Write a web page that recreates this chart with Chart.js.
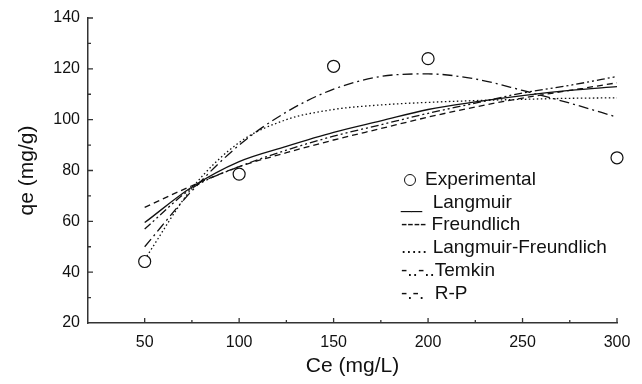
<!DOCTYPE html>
<html>
<head>
<meta charset="utf-8">
<script src="https://cdn.jsdelivr.net/npm/chart.js@4"></script>
<style>
  body { margin: 0; background: #fff; }
  #wrap { position: relative; width: 642px; height: 384px; }
  #legend {
    position: absolute; left: 401px; top: 168px;
    font-family: "Liberation Sans", Arial, sans-serif; font-size: 19px;
    line-height: 22.7px; color: #111; white-space: pre;
  }
  .dot {
    display: inline-block; width: 10px; height: 10px; border: 1.3px solid #111;
    border-radius: 50%; margin: 0 9px 0 3px; vertical-align: -1px;
  }
</style>
</head>
<body>
<div id="wrap">
  <canvas id="chart" width="642" height="384"></canvas>
  <div id="legend"><div><span class="dot"></span>Experimental</div><div>__  Langmuir</div><div>---- Freundlich</div><div>..... Langmuir-Freundlich</div><div>-..-..Temkin</div><div>-.-.  R-P</div></div>
</div>
<script>
const ce = [50, 75, 100, 125, 150, 175, 200, 225, 250, 275, 300];
const expCe = [50, 100, 150, 200, 300];
const expQe = [44.2, 78.6, 121, 124, 85];
const langmuir = [59.5, 73.5, 83.5, 89.5, 95, 99.5, 104, 107, 109.5, 111.5, 113];
const freundlich = [65.5, 74, 81.5, 87, 92, 96.5, 101, 105, 108.5, 111.5, 114.5];
const langFreund = [45, 73, 91, 100, 104, 105.8, 106.8, 107.5, 108, 108.4, 108.6];
const temkin = [57, 73, 81.5, 88, 93.5, 98, 102.5, 106.5, 110.5, 113.5, 117];
const redlichP = [50, 72, 90, 103, 112, 117, 118, 116, 111.5, 106.5, 101];
const xTicks = [50, 100, 150, 200, 250, 300];

function curve(values, dash) {
  return {
    type: "line",
    data: values.map((v, i) => ({ x: ce[i], y: v })),
    borderColor: "#111",
    borderWidth: 1.3,
    borderDash: dash,
    pointRadius: 0,
    fill: false,
    cubicInterpolationMode: "monotone",
  };
}

// ticks pointing into the plot, like the original
const innerTicks = {
  id: "innerTicks",
  afterDraw(chart) {
    const ctx = chart.ctx;
    const x = chart.scales.x;
    const y = chart.scales.y;
    ctx.save();
    ctx.strokeStyle = "#333";
    ctx.lineWidth = 1.3;
    ctx.beginPath();
    for (let v = 50; v <= 300; v += 25) {
      const px = x.getPixelForValue(v);
      const len = v % 50 === 0 ? 5 : 3;
      ctx.moveTo(px, y.bottom);
      ctx.lineTo(px, y.bottom - len);
    }
    for (let v = 30; v <= 140; v += 10) {
      const py = y.getPixelForValue(v);
      const len = v % 20 === 0 ? 5 : 3;
      ctx.moveTo(x.left, py);
      ctx.lineTo(x.left + len, py);
    }
    ctx.stroke();
    ctx.restore();
  },
};

document.addEventListener("DOMContentLoaded", () => {
  const font = { family: "'Liberation Sans', Arial, sans-serif" };
  new Chart(document.getElementById("chart").getContext("2d"), {
    data: {
      datasets: [
        {
          type: "scatter",
          data: expCe.map((v, i) => ({ x: v, y: expQe[i] })),
          pointStyle: "circle",
          pointRadius: 6,
          pointBackgroundColor: "#fff",
          pointBorderColor: "#111",
          pointBorderWidth: 1.2,
          clip: false,
        },
        curve(langmuir, []),
        curve(freundlich, [6, 4]),
        curve(langFreund, [1.5, 2.5]),
        curve(temkin, [8, 3, 2, 3, 2, 3]),
        curve(redlichP, [10, 4, 2, 4]),
      ],
    },
    options: {
      responsive: false,
      animation: false,
      layout: { padding: { top: 18, right: 25, left: 0, bottom: 0 } },
      plugins: { legend: { display: false }, tooltip: { enabled: false } },
      scales: {
        x: {
          type: "linear",
          min: 20,
          max: 300,
          afterBuildTicks: (s) => { s.ticks = xTicks.map((v) => ({ value: v })); },
          afterFit: (s) => { s.height = 61; },
          grid: { display: false, drawTicks: false },
          border: { display: true, color: "#333", width: 1.5 },
          ticks: { padding: 10, color: "#111", font: { ...font, size: 16 } },
          title: {
            display: true, text: "Ce (mg/L)", color: "#111",
            font: { ...font, size: 21 }, padding: { top: 0, bottom: 5 },
          },
        },
        y: {
          min: 20,
          max: 140,
          ticks: { stepSize: 20, padding: 8, color: "#111", font: { ...font, size: 16 } },
          afterFit: (s) => { s.width = 88; },
          grid: { display: false, drawTicks: false },
          border: { display: true, color: "#333", width: 1.5 },
          title: {
            display: true, text: "qe (mg/g)", color: "#111",
            font: { ...font, size: 21 }, padding: { top: 15, bottom: 0 },
          },
        },
      },
    },
    plugins: [innerTicks],
  });
});
</script>
</body>
</html>
